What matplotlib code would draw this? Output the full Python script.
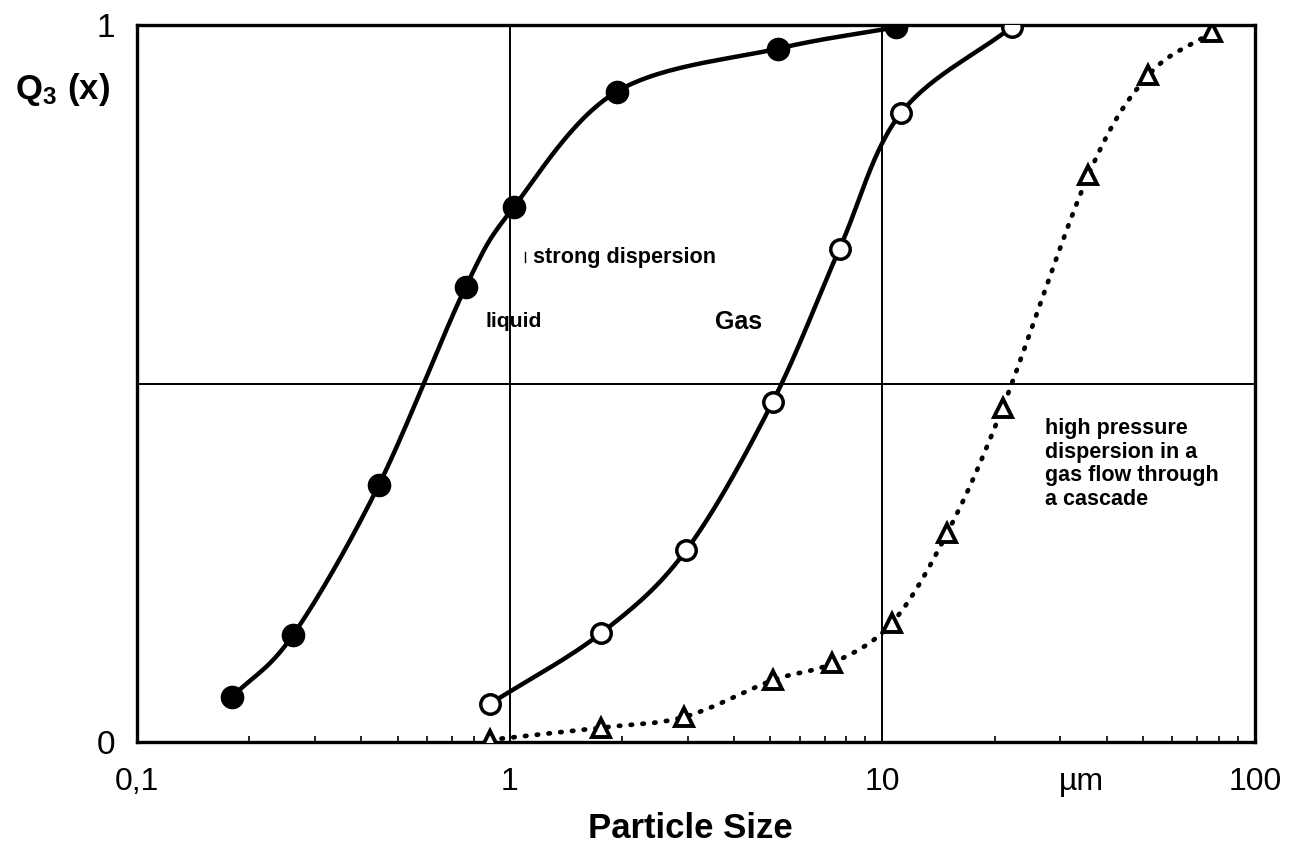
import numpy as np
import matplotlib
matplotlib.use("Agg")
from matplotlib import pyplot as plt
from matplotlib.ticker import FixedLocator, NullFormatter, LogLocator

# Q3(x) cumulative distributions
liquid_x = [0.18, 0.262, 0.445, 0.762, 1.025, 1.935, 5.23, 10.9]
liquid_q = [0.063, 0.149, 0.358, 0.635, 0.746, 0.907, 0.967, 0.997]

gas_x = [0.884, 1.76, 2.98, 5.07, 7.67, 11.2, 22.2]
gas_q = [0.053, 0.152, 0.268, 0.474, 0.688, 0.877, 0.997]

hp_x = [0.884, 1.76, 2.94, 5.07, 7.34, 10.6, 14.9, 21.0, 35.7, 51.7, 76.7]
hp_q = [0.003, 0.020, 0.035, 0.086, 0.110, 0.166, 0.291, 0.466, 0.791, 0.930, 0.990]

x_ticks = [0.1, 1, 10, 100]
x_ticklabels = ["0,1", "1", "10", "100"]


def smooth(xs, ys, n=30):
    # catmull-rom through the points, in log-x space
    lx = np.log10(xs)
    ys = np.asarray(ys, float)
    px = np.concatenate([[2 * lx[0] - lx[1]], lx, [2 * lx[-1] - lx[-2]]])
    py = np.concatenate([[2 * ys[0] - ys[1]], ys, [2 * ys[-1] - ys[-2]]])
    outx, outy = [], []
    for i in range(1, len(px) - 2):
        t = np.linspace(0, 1, n)
        for p, out in ((px, outx), (py, outy)):
            p0, p1, p2, p3 = p[i - 1], p[i], p[i + 1], p[i + 2]
            out.extend(0.5 * (2 * p1 + (-p0 + p2) * t
                              + (2 * p0 - 5 * p1 + 4 * p2 - p3) * t ** 2
                              + (-p0 + 3 * p1 - 3 * p2 + p3) * t ** 3))
    return 10 ** np.array(outx), np.array(outy)


plt.rcParams['font.family'] = ['Liberation Sans', 'DejaVu Sans']
plt.rcParams['mathtext.fontset'] = 'custom'
plt.rcParams['mathtext.rm'] = 'Liberation Sans:bold'
plt.rcParams['mathtext.it'] = 'Liberation Sans:bold'

fig = plt.figure(figsize=(12.94, 8.57), dpi=100)
ax = fig.add_axes([0.1059, 0.1342, 0.8641, 0.8366])
ax.set_xscale("log")
ax.set_xlim(0.1, 100)
ax.set_ylim(0, 1)

for v in (1, 10):
    ax.axvline(v, color="black", lw=1.4, zorder=1)
ax.axhline(0.5, color="black", lw=1.4, zorder=1)

sx, sy = smooth(liquid_x, liquid_q)
ax.plot(sx, sy, color="black", lw=3.2, zorder=2)
ax.plot(liquid_x, liquid_q, "o", color="black", ms=16, zorder=3)

sx, sy = smooth(gas_x, gas_q)
ax.plot(sx, sy, color="black", lw=3.2, zorder=2)
ax.plot(gas_x, gas_q, "o", mfc="white", mec="black", mew=2.5, ms=14, zorder=3)

sx, sy = smooth(hp_x, hp_q)
ax.plot(sx, sy, color="black", lw=3.4, ls=(0, (0.3, 2.2)),
        dash_capstyle="round", zorder=2)
ax.plot(hp_x, hp_q, "^", mfc="white", mec="black", mew=2.8, ms=13, zorder=3)

for s in ax.spines.values():
    s.set_linewidth(2.4)

ax.xaxis.set_major_locator(FixedLocator(x_ticks))
ax.set_xticklabels(x_ticklabels)
ax.xaxis.set_minor_locator(LogLocator(base=10, subs=np.arange(2, 10) * 1.0))
ax.xaxis.set_minor_formatter(NullFormatter())
ax.tick_params(axis="x", which="minor", direction="in", length=4, width=1.2)
ax.tick_params(axis="x", which="major", direction="out", length=0, pad=18,
               labelsize=23)
ax.set_yticks([0, 1])
ax.set_yticklabels(["0", "1"])
ax.tick_params(axis="y", direction="out", length=0, pad=16, labelsize=24)

fig.text(1081 / 1294, 1 - 782 / 857, "\u00b5m", fontsize=23,
         ha="center", va="center")
fig.text(690 / 1294, 1 - 828 / 857, "Particle Size", fontsize=25,
         fontweight="bold", ha="center", va="center")
fig.text(15 / 1294, 1 - 90 / 857, r"$\mathrm{Q_3\ (x)}$", fontsize=25,
         ha="left", va="center")

ax.text(1.155, 0.676, "strong dispersion", fontsize=15.6, fontweight="bold",
        va="center")
ax.plot([1.10, 1.10], [0.669, 0.683], color="black", lw=1)
ax.text(0.859, 0.586, "liquid", fontsize=15.2, fontweight="bold", va="center")
ax.text(3.56, 0.586, "Gas", fontsize=18, fontweight="bold", va="center")
ax.text(27.3, 0.452, "high pressure\ndispersion in a\ngas flow through\na cascade",
        fontsize=15.5, fontweight="bold", va="top", linespacing=1.17)

fig.savefig("out.png", dpi=100)
